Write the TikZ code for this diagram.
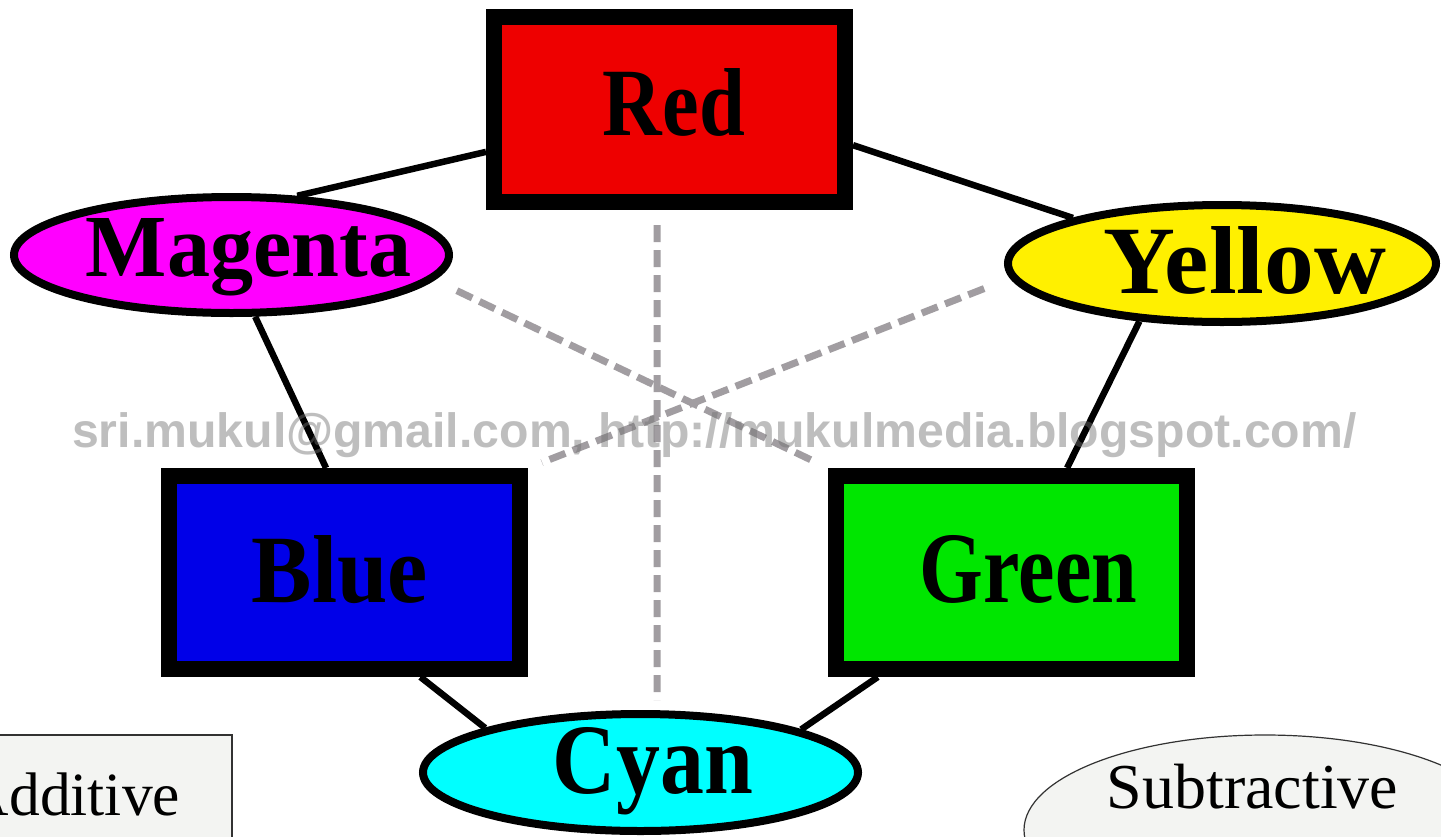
\documentclass[tikz,border=0pt]{standalone}
\usepackage{fontspec}
\usepackage{graphicx}
\setmainfont{Liberation Serif}
\newfontfamily\wmfont{Liberation Sans}
\usetikzlibrary{shapes.geometric}

\definecolor{boxred}{RGB}{238,0,0}
\definecolor{boxblue}{RGB}{0,0,232}
\definecolor{boxgreen}{RGB}{0,230,0}
\definecolor{ellmagenta}{RGB}{255,0,255}
\definecolor{ellyellow}{RGB}{255,240,0}
\definecolor{ellcyan}{RGB}{0,255,255}
\definecolor{mixgray}{RGB}{161,157,161}
\definecolor{legendfill}{RGB}{243,244,242}
\definecolor{legenddraw}{RGB}{50,50,50}
\definecolor{wmgray}{RGB}{113,113,113}

% colour names squeezed into a fixed glyph box
\newcommand\fitname[3]{\resizebox{#1}{#2}{\bfseries #3}}

\begin{document}
\begin{tikzpicture}[x=1pt,y=-1pt,
  primary/.style={rectangle, draw=black, line width=16pt, inner sep=0pt,
                  minimum width=351pt, minimum height=193pt},
  secondary/.style={ellipse, draw=black, line width=8pt, inner sep=0pt,
                    minimum width=435pt, minimum height=117pt},
  cname/.style={anchor=base, inner sep=0pt, text=black},
  link/.style={line width=6.5pt, draw=black},
  mix/.style={line width=7pt, draw=mixgray, dash pattern=on 17pt off 8pt},
  legend/.style={draw=legenddraw, line width=1.2pt, fill=legendfill, inner sep=0pt},
  legendtext/.style={anchor=base, inner sep=0pt},
]
\useasboundingbox (0,0) rectangle (1441,836);
\fill[white] (0,0) rectangle (1441,836);
\clip (0,0) rectangle (1441,836);

% legend boxes
\node[legend, rectangle, minimum width=319pt, minimum height=170pt] (additive) at (72.5,820) {};
\node[legendtext, font=\fontsize{61.5}{61.5}\selectfont] (additivetext) at (72.5,815) {Additive};
\node[legend, ellipse, minimum width=482pt, minimum height=190pt] (subtractive) at (1265,830) {};
\node[legendtext, font=\fontsize{64}{64}\selectfont] (subtractivetext) at (1252.5,808) {Subtractive};

% primaries
\node[primary, fill=boxred, minimum height=185pt] (red) at (669.5,109.5) {};
\node[primary, fill=boxblue] (blue) at (344.5,572.5) {};
\node[primary, fill=boxgreen] (green) at (1011.5,572.5) {};

% secondaries
\node[secondary, fill=ellmagenta, minimum height=116pt] (magenta) at (231.5,255) {};
\node[secondary, fill=ellyellow, minimum width=428pt] (yellow) at (1222,263.5) {};
\node[secondary, fill=ellcyan] (cyan) at (640.5,772.5) {};

% names
\node[cname] (redname) at (674,135) {\fitname{142pt}{67pt}{Red}};
\node[cname] (bluename) at (340,602) {\fitname{176pt}{67pt}{Blue}};
\node[cname] (greenname) at (1028.5,602) {\fitname{217pt}{67pt}{Green}};
\node[cname] (magentaname) at (248.5,276) {\fitname{325pt}{58pt}{Magenta}};
\node[cname] (yellowname) at (1245,293) {\fitname{282pt}{67pt}{Yellow}};
\node[cname] (cyanname) at (653,793) {\fitname{200pt}{66pt}{Cyan}};

% solid links around the wheel
\draw[link] (red.193.6) -- (magenta.42.8);
\draw[link] (red.-11.85) -- (yellow.163.4);
\draw[link] (magenta.-69) -- (blue.100.6);
\draw[link] (yellow.-145.4) -- (green.62.5);
\draw[link] (blue.-54.2) -- (cyan.164.6);
\draw[link] (green.-142.4) -- (cyan.15.7);

% dashed links to the opposite colours
\draw[mix, shorten <=15pt, shorten >=10pt] (red.-97.1) -- (cyan.75.2);
\draw[mix, shorten <=25pt, shorten >=15pt] (magenta.-7) -- (green.north west);
\draw[mix, shorten <=28pt, shorten >=15pt] (yellow.184) -- (blue.north east);

% address line
\node[anchor=base west, inner sep=0pt, text=wmgray, text opacity=0.45,
      font=\wmfont\bfseries\fontsize{48.2}{48.2}\selectfont] (address) at (72,447)
      {sri.mukul@gmail.com, http://mukulmedia.blogspot.com/};
\end{tikzpicture}
\end{document}
